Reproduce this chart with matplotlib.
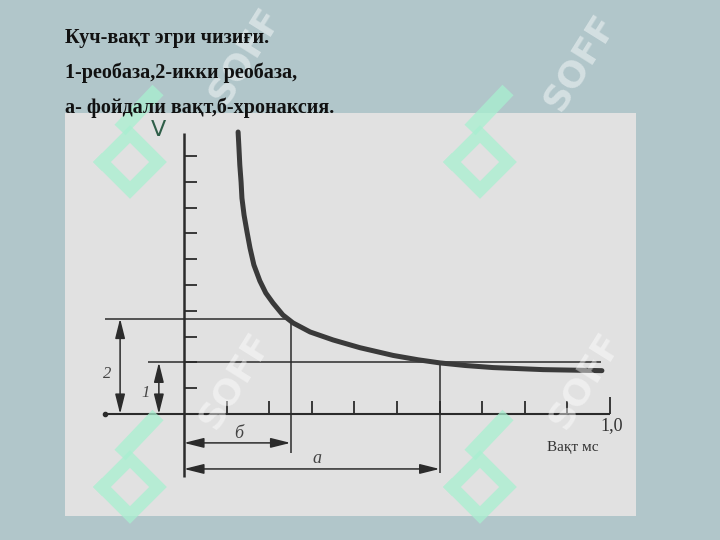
import matplotlib
matplotlib.use('Agg')
from matplotlib import pyplot as plt
from matplotlib.patches import Rectangle

# strength-duration curve (x in ms, y in tick units)
curve_t = [0.127, 0.129, 0.131, 0.134, 0.136, 0.141, 0.148, 0.155, 0.164, 0.178,
           0.192, 0.209, 0.232, 0.256, 0.296, 0.350, 0.413, 0.491, 0.550, 0.601,
           0.660, 0.725, 0.843, 0.981]
curve_v = [10.93, 10.31, 9.65, 8.99, 8.37, 7.71, 7.05, 6.43, 5.78, 5.16,
           4.69, 4.30, 3.84, 3.53, 3.18, 2.87, 2.57, 2.27, 2.10, 1.98,
           1.88, 1.80, 1.72, 1.68]

rheobase = 2.0
two_rheobase = 3.7
chronaxie = 0.25
useful_time = 0.60

x_ticks = [0.1, 0.2, 0.3, 0.4, 0.5, 0.6, 0.7, 0.8, 0.9]
y_ticks = [1, 2, 3, 4, 5, 6, 7, 8, 9, 10]

title_lines = ['Куч-вақт эгри чизиғи.',
               '1-реобаза,2-икки реобаза,',
               'а- фойдали вақт,б-хронаксия.']

bg = '#b1c6ca'
ink = '#2b2b2b'

fig = plt.figure(figsize=(7.2, 5.4), dpi=100, facecolor=bg)

# background layer in pixel coords (grey scanned panel)
back = fig.add_axes([0, 0, 1, 1], zorder=0)
back.set_xlim(0, 720)
back.set_ylim(540, 0)
back.axis('off')
back.add_patch(Rectangle((65, 113), 571, 403, facecolor='#e1e1e1', edgecolor='none'))

# chart layer: 1 ms -> 426 px, 1 tick -> 25.8 px, origin at (184, 414)
ax = fig.add_axes([0, 0, 1, 1], zorder=1)
ax.patch.set_alpha(0)
ax.set_xlim(-184 / 426, (720 - 184) / 426)
ax.set_ylim((414 - 540) / 25.8, 414 / 25.8)
ax.axis('off')

# axes
ax.plot([-0.185, 1.0], [0, 0], color=ink, lw=1.5, solid_capstyle='butt')
ax.plot([0, 0], [-2.44, 10.9], color=ink, lw=1.8, solid_capstyle='butt')
ax.plot([-0.185], [0], marker='o', ms=3, color=ink)
ax.vlines(x_ticks, 0, 0.5, color=ink, lw=1.3)
ax.vlines([1.0], 0, 0.66, color=ink, lw=1.3)
ax.hlines(y_ticks, 0, 0.03, color=ink, lw=1.3)

# reference lines
ax.hlines(two_rheobase, -0.185, chronaxie, color=ink, lw=1.1)
ax.hlines(rheobase, -0.085, 0.98, color=ink, lw=1.1)
ax.vlines(chronaxie, -1.51, two_rheobase, color=ink, lw=1.1)
ax.vlines(useful_time, -2.29, rheobase, color=ink, lw=1.1)

# the curve
ax.plot(curve_t, curve_v, color='#3a3a3a', lw=3.6, solid_capstyle='round',
        solid_joinstyle='round')

# dimension arrows
arr = dict(arrowstyle='<|-|>,head_length=1.2,head_width=0.3', color=ink, lw=1.1,
           shrinkA=0, shrinkB=0)
ax.annotate('', xy=(-0.150, two_rheobase), xytext=(-0.150, 0), arrowprops=arr)
ax.annotate('', xy=(-0.059, rheobase), xytext=(-0.059, 0), arrowprops=arr)
ax.annotate('', xy=(chronaxie, -1.12), xytext=(0, -1.12), arrowprops=arr)
ax.annotate('', xy=(useful_time, -2.13), xytext=(0, -2.13), arrowprops=arr)

serif = 'Liberation Serif'
ax.text(-0.180, 1.55, '2', fontsize=12, style='italic', family=serif, color='#444444',
        ha='center', va='center')
ax.text(-0.089, 0.81, '1', fontsize=12, style='italic', family=serif, color='#444444',
        ha='center', va='center')
ax.text(0.129, -0.74, 'б', fontsize=13, style='italic', family=serif, color='#444444',
        ha='center', va='center')
ax.text(0.312, -1.74, 'a', fontsize=13, style='italic', family=serif, color='#444444',
        ha='center', va='center')
ax.text(1.005, -0.43, '1,0', fontsize=13, family=serif, color='#333333',
        ha='center', va='center')
ax.text(0.913, -1.28, 'Вақт мс', fontsize=11, family=serif, color='#333333',
        ha='center', va='center')
ax.text(-0.061, 11.0, 'V', fontsize=16, family='DejaVu Sans', color='#2f5e48',
        ha='center', va='center')

# title lines
for i, line in enumerate(title_lines):
    fig.text(65 / 720, 1 - (38 + 35 * i) / 540, line, fontsize=14.5, weight='bold',
             family=serif, color='#111111', ha='left', va='center')

# watermark layer
wm = fig.add_axes([0, 0, 1, 1], zorder=2)
wm.patch.set_alpha(0)
wm.set_xlim(0, 720)
wm.set_ylim(540, 0)
wm.axis('off')
for cx, cy in [(130, 140), (480, 140), (130, 465), (480, 465)]:
    # diamond ring + stem, a rough copy of the mint logo
    ring_x = [cx - 28, cx, cx + 28, cx, cx - 28]
    ring_y = [cy + 22, cy - 6, cy + 22, cy + 50, cy + 22]
    wm.plot(ring_x, ring_y, color='#a8f0d0', lw=9, alpha=0.75, solid_joinstyle='miter')
    wm.plot([cx - 10, cx + 28], [cy - 10, cy - 50], color='#a8f0d0', lw=11, alpha=0.75,
            solid_capstyle='butt')
for cx, cy in [(245, 55), (580, 62), (235, 380), (585, 380)]:
    wm.text(cx, cy, 'SOFF', fontsize=26, weight='bold', family='DejaVu Sans',
            color='white', alpha=0.45, rotation=58, ha='center', va='center')

fig.savefig('out.png', dpi=100, facecolor=bg)
